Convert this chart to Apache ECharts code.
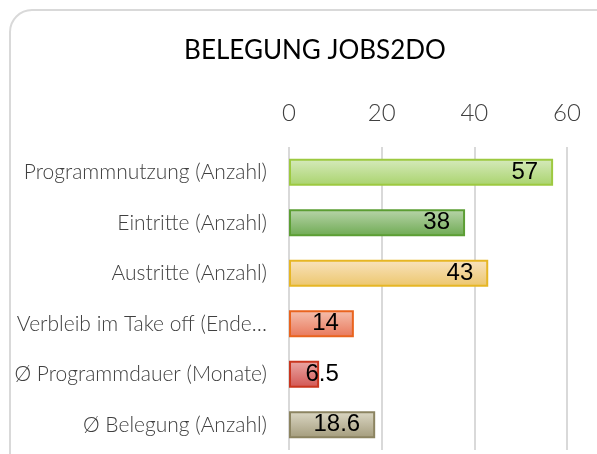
<!DOCTYPE html>
<html>
<head>
<meta charset="utf-8">
<script src="https://cdn.jsdelivr.net/npm/echarts@6/dist/echarts.min.js"></script>
<style>
  html, body { margin: 0; padding: 0; background: #fff; }
  #chart { width: 597px; height: 454px; }
</style>
</head>
<body>
<div id="chart"></div>
<script>
const categories = [
  'Programmnutzung (Anzahl)',
  'Eintritte (Anzahl)',
  'Austritte (Anzahl)',
  'Verbleib im Take off (Ende…',
  'Ø Programmdauer (Monate)',
  'Ø Belegung (Anzahl)'
];
const values = [57, 38, 43, 14, 6.5, 18.6];
const tickMax = 60;

// top, bottom, border per bar
const barColors = [
  ['#d6eabd', '#a9d36c', '#9dc940'],
  ['#b9d5ab', '#6eaa52', '#5c9e34'],
  ['#f9e3bf', '#ecc66c', '#e6b625'],
  ['#f5c0ae', '#e8775a', '#e9641f'],
  ['#eaa9a6', '#d25552', '#c9361f'],
  ['#dcd8c5', '#a39b7b', '#8c8461']
];

const chart = echarts.init(document.getElementById('chart'));

const data = values.map((v, i) => ({
  value: v,
  itemStyle: {
    color: new echarts.graphic.LinearGradient(0, 0, 0, 1, [
      { offset: 0, color: barColors[i][0] },
      { offset: 1, color: barColors[i][1] }
    ]),
    borderColor: barColors[i][2],
    borderWidth: 2
  },
  label: v < 10 ? { position: 'inside', offset: [18, 0] } : {}
}));

chart.setOption({
  animation: false,
  graphic: [{
    type: 'rect',
    shape: { x: 10, y: 10, width: 640, height: 500, r: 22 },
    style: { fill: 'none', stroke: '#d9d9d9', lineWidth: 2 },
    z: -10
  }],
  title: {
    text: 'BELEGUNG JOBS2DO',
    left: 310,
    textAlign: 'center',
    top: 33,
    textStyle: { fontFamily: 'Lato', fontWeight: 'normal', fontSize: 26, color: '#000' }
  },
  grid: { left: 289, right: 30, top: 147, bottom: 4, containLabel: false },
  xAxis: {
    type: 'value',
    position: 'top',
    min: 0,
    max: tickMax,
    interval: 20,
    axisLine: { show: false },
    axisTick: { show: false },
    axisLabel: { fontFamily: 'Lato', fontWeight: 300, fontSize: 24, color: '#404040', margin: 22 },
    splitLine: { lineStyle: { color: '#d9d9d9', width: 2 } }
  },
  yAxis: {
    type: 'category',
    data: categories,
    inverse: true,
    axisLine: { show: false },
    axisTick: { show: false },
    axisLabel: { fontFamily: 'Lato', fontWeight: 300, fontSize: 21, color: '#404040', margin: 22 }
  },
  series: [{
    type: 'bar',
    data: data,
    barWidth: 27,
    label: {
      show: true,
      position: 'insideRight',
      distance: 15,
      fontFamily: 'Liberation Sans',
      fontSize: 24,
      color: '#000'
    }
  }]
});
</script>
</body>
</html>
